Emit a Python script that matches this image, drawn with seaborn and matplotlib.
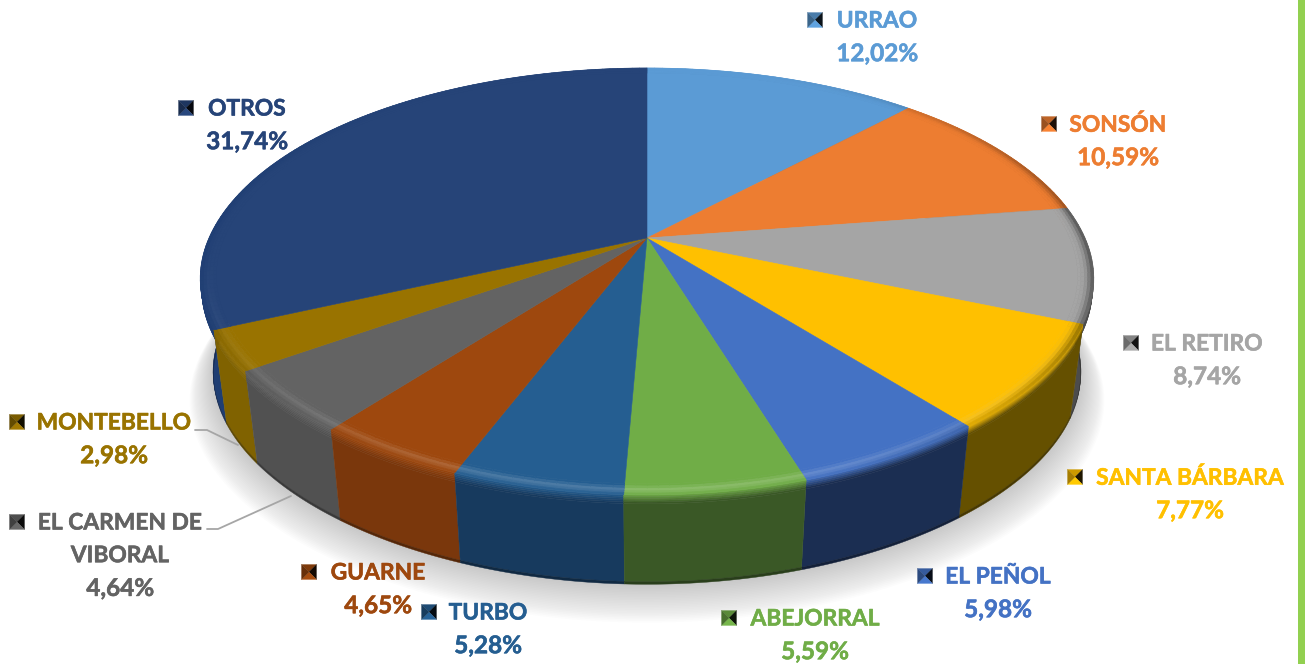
import numpy as np
import matplotlib
matplotlib.use('Agg')
import matplotlib.pyplot as plt
import matplotlib.patheffects as pe
import matplotlib.colors as mc
from matplotlib.collections import PolyCollection
import seaborn as sns

# --- data ---
municipios = ['URRAO', 'SONSÓN', 'EL RETIRO', 'SANTA BÁRBARA', 'EL PEÑOL', 'ABEJORRAL',
              'TURBO', 'GUARNE', 'EL CARMEN DE\nVIBORAL', 'MONTEBELLO', 'OTROS']
porcentajes = [12.02, 10.59, 8.74, 7.77, 5.98, 5.59, 5.28, 4.65, 4.64, 2.98, 31.74]
colores = ['#5B9BD5', '#ED7D31', '#A5A5A5', '#FFC000', '#4472C4', '#70AD47',
           '#255E91', '#9E480E', '#636363', '#997300', '#264478']
colores_lado = ['#3A6389', '#8F4B1D', '#4C4C4C', '#655000', '#1B2E52', '#3A5826',
                '#173A5E', '#7A370C', '#515151', '#806200', '#1F3E73']

# label layout: text centre x, first line y, key x
etiquetas = [(877, 21, 815), (1118, 125, 1049), (1207, 344, 1131), (1190, 478, 1075),
             (998, 577, 925), (815, 619, 729), (488, 613, 429), (378, 573, 309),
             (120, 523, 17), (114, 423, 17), (247, 109, 186)]
paso_linea = 32.7

sns.set_theme(style='white')
plt.rcParams['font.family'] = ['Lato', 'DejaVu Sans']
paleta = sns.color_palette(colores)
paleta_lado = sns.color_palette(colores_lado)

# perspective of the disc
CX, CY = 647, 238
K = 0.2037


def tapa(ang, r=1.0, sx=438.0, sy=204.6, cy=CY):
    u, v = r * np.sin(ang), r * np.cos(ang)
    w = 1 + K * v
    # the front of the picture is a little narrower than a pure projection
    ajuste = 1 - 0.035 * np.maximum(0, -np.cos(ang)) ** 2
    return CX + sx * u * ajuste / w, cy - sy * v / w


def fondo(ang, r=1.0):
    return tapa(ang, r, 425.0, 198.5, 335.0)


def mezcla(c1, c2, t):
    return tuple((1 - t) * np.array(mc.to_rgb(c1)) + t * np.array(mc.to_rgb(c2)))


fig, ax = plt.subplots(figsize=(13.05, 6.64), dpi=100)
fig.subplots_adjust(0, 0, 1, 1)
ax.set_xlim(0, 1305)
ax.set_ylim(664, 0)
ax.axis('off')

# soft shadow below the pie
todo = np.linspace(0, 2 * np.pi, 300)
for i in range(24, 0, -1):
    x, y = tapa(todo, 1 + i * 0.0022, 425.0, 198.5, 335.0 + i * 0.9)
    ax.fill(x, y, color='#444444', alpha=0.012, lw=0, zorder=1)

fracciones = np.array(porcentajes) / np.sum(porcentajes)
limites = np.concatenate([[0], np.cumsum(fracciones)]) * 2 * np.pi
medios = (limites[:-1] + limites[1:]) / 2

# side walls, back to front
niveles = [0, 0.02, 0.04, 0.06, 0.08, 0.1, 0.97, 1.0]
orden = np.argsort(-np.cos(medios))
for i in orden:
    angs = np.linspace(limites[i], limites[i + 1], 80)
    xa, ya = tapa(angs)
    xb, yb = fondo(angs)
    for t0, t1 in zip(niveles[:-1], niveles[1:]):
        px = np.concatenate([xa + t0 * (xb - xa), (xa + t1 * (xb - xa))[::-1]])
        py = np.concatenate([ya + t0 * (yb - ya), (ya + t1 * (yb - ya))[::-1]])
        if t1 <= 0.1:
            c = mezcla(paleta[i], paleta_lado[i], t1 / 0.1)
        elif t0 >= 0.97:
            c = mezcla(paleta_lado[i], '#000000', 0.3)
        else:
            c = paleta_lado[i]
        ax.fill(px, py, color=c, lw=0.3, ec=c, zorder=2)

# top faces with the bevel on the rim
radios = [0.965, 0.972, 0.98, 0.987, 0.994, 1.0]
brillo = [0.0, 0.08, 0.18, 0.12, 0.03]
oscuro = [0.0, 0.05, 0.2, 0.5, 0.8]
for i in range(len(porcentajes)):
    angs = np.linspace(limites[i], limites[i + 1], max(4, int((limites[i + 1] - limites[i]) * 50)))
    xr, yr = tapa(angs, radios[0])
    ax.fill(np.r_[CX, xr], np.r_[CY, yr], color=paleta[i], lw=0.4, ec=paleta[i], zorder=3)
    polis, cols = [], []
    for a0, a1 in zip(angs[:-1], angs[1:]):
        med = (a0 + a1) / 2
        frente = max(0.0, -np.cos(med)) ** 1.5
        lado = abs(np.sin(med)) ** 3
        for j in range(5):
            x0, y0 = tapa(np.array([a0, a1]), radios[j])
            x1, y1 = tapa(np.array([a0, a1]), radios[j + 1])
            polis.append(np.column_stack([np.r_[x0, x1[::-1]], np.r_[y0, y1[::-1]]]))
            c = mezcla(paleta[i], '#FFFFFF', brillo[j] * frente)
            cols.append(mezcla(c, paleta_lado[i], oscuro[j] * lado))
    ax.add_collection(PolyCollection(polis, facecolors=cols, edgecolors=cols, linewidths=0.5, zorder=3))

# leader lines
gris = '#A6A6A6'
ax.plot([195, 207, 238], [430, 430, 445], color=gris, lw=1.3, zorder=4)
ax.plot([207, 218, 291], [529, 529, 496], color=gris, lw=1.3, zorder=4)


def llave(cx, cy, color, lado=7.5):
    # pyramid shaded legend key
    c = np.array(mc.to_rgb(color))
    esquinas = [(cx - lado, cy - lado), (cx + lado, cy - lado), (cx + lado, cy + lado), (cx - lado, cy + lado)]
    tonos = [c * 0.8, c * 0.12, np.minimum(1, c * 1.05), c * 0.65]
    for k in range(4):
        p0, p1 = esquinas[k], esquinas[(k + 1) % 4]
        ax.fill([p0[0], p1[0], cx], [p0[1], p1[1], cy], color=tonos[k], lw=0.2, zorder=5)


# labels
for nombre, pct, col, (tx, ty, kx) in zip(municipios, porcentajes, paleta, etiquetas):
    lineas = nombre.split('\n')
    for n, linea in enumerate(lineas):
        t = ax.text(tx, ty + n * paso_linea, linea, color=col, fontsize=16.4, fontweight='bold',
                    ha='center', va='center', zorder=6)
        t.set_path_effects([pe.withStroke(linewidth=0.4, foreground=col)])
    t = ax.text(tx, ty + len(lineas) * paso_linea, f'{pct:.2f}%'.replace('.', ','), color=col,
                fontsize=17.5, fontweight='bold', ha='center', va='center', zorder=6)
    t.set_path_effects([pe.withStroke(linewidth=0.4, foreground=col)])
    llave(kx, ty - 1, col)

# green border at the right side
ax.axvspan(1298, 1305, color='#92D050', lw=0, zorder=7)

fig.savefig('out.png', dpi=100)
